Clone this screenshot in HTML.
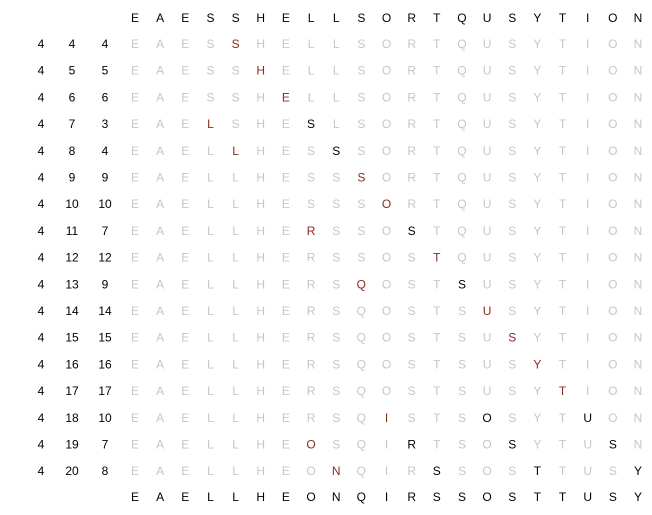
<!DOCTYPE html>
<html><head><meta charset="utf-8"><style>
html,body{margin:0;padding:0;background:#fff;}
svg text{font-family:"Liberation Sans",sans-serif;font-size:12px;text-anchor:middle;}
</style></head><body>
<svg id="chart" width="652" height="510" xmlns="http://www.w3.org/2000/svg"></svg>
<script>
const inputLetters = ["E","A","E","S","S","H","E","L","L","S","O","R","T","Q","U","S","Y","T","I","O","N"];
const hValue = 4;
const svg = document.getElementById('chart');
const NS = 'http://www.w3.org/2000/svg';
const colX = k => 135 + k * 25.15;
const rowY = r => 43 + r * 26.7;
function txt(x, y, s, fill, name) {
  const t = document.createElementNS(NS, 'text');
  t.setAttribute('x', x); t.setAttribute('y', y + 5);
  t.setAttribute('fill', fill);
  t.textContent = s;
  
  
  svg.appendChild(t);
}
let a = inputLetters.slice();
a.forEach((c, k) => txt(colX(k), 17, c, '#000', 'input-letter'));
let r = 0;
for (let i = hValue; i < a.length; i++) {
  let j = i;
  const v = a[i];
  while (j >= hValue && a[j - hValue] > v) { a[j] = a[j - hValue]; j -= hValue; }
  a[j] = v;
  const y = rowY(r);
  txt(41, y, String(hValue), '#000', 'h-value');
  txt(72, y, String(i), '#000', 'i-value');
  txt(105, y, String(j), '#000', 'j-value');
  a.forEach((c, k) => {
    let col = '#c6c6c6';
    if (k === j) col = '#8b2a1f';
    else if (k > j && k <= i && (k - j) % hValue === 0) col = '#000';
    txt(colX(k), y, c, col, 'trace-letter');
  });
  r++;
}
a.forEach((c, k) => txt(colX(k), 496, c, '#000', 'output-letter'));
</script>
</body></html>
